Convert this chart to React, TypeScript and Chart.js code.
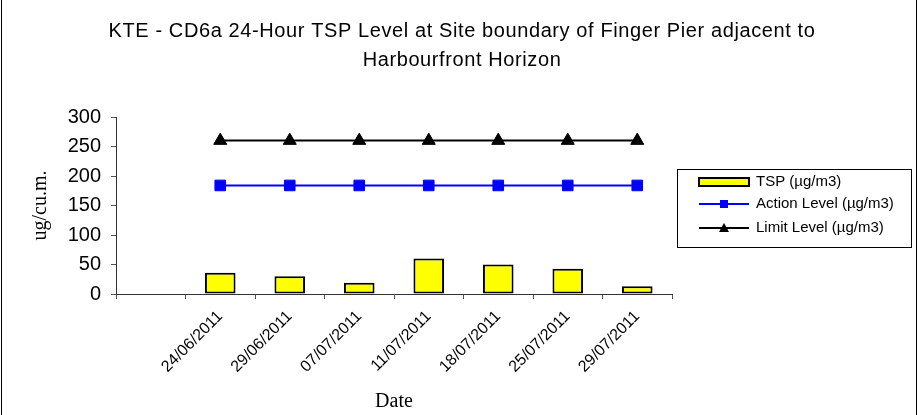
import React, { useEffect, useRef } from 'react';
import { Chart, registerables } from 'chart.js';

Chart.register(...registerables);

const titleLines = [
  'KTE - CD6a 24-Hour TSP Level at Site boundary of Finger Pier adjacent to',
  'Harbourfront Horizon',
];
const categories = ['', '24/06/2011', '29/06/2011', '07/07/2011', '11/07/2011', '18/07/2011', '25/07/2011', '29/07/2011'];
const tspValues = [null, 36, 30, 19, 60, 50, 43, 13];
const actionLevel = [null, 184, 184, 184, 184, 184, 184, 184];
const limitLevel = [null, 260, 260, 260, 260, 260, 260, 260];
const yMin = 0;
const yMax = 300;
const yStep = 50;
const yAxisTitle = 'ug/cu.m.';
const xAxisTitle = 'Date';
const seriesLabels = ['TSP (µg/m3)', 'Action Level (µg/m3)', 'Limit Level (µg/m3)'];

const SANS = '"Liberation Sans", Arial, sans-serif';
const SERIF = '"Liberation Serif", "Times New Roman", serif';

const frameTitlePlugin = {
  id: 'frameTitle',
  afterDraw(chart: any) {
    const ctx = chart.ctx as CanvasRenderingContext2D;
    ctx.save();
    ctx.strokeStyle = '#000';
    ctx.lineWidth = 1;
    ctx.beginPath();
    ctx.moveTo(1.5, 0);
    ctx.lineTo(1.5, chart.height);
    ctx.moveTo(916.5, 0);
    ctx.lineTo(916.5, chart.height);
    ctx.stroke();
    ctx.fillStyle = '#000';
    ctx.font = '20px ' + SANS;
    (ctx as any).letterSpacing = '0.6px';
    ctx.textAlign = 'center';
    ctx.textBaseline = 'middle';
    titleLines.forEach((t, i) => ctx.fillText(t, 462, 31 + i * 29));
    ctx.restore();
  },
};

const boxLegendPlugin = {
  id: 'boxLegend',
  afterDraw(chart: any) {
    const ctx = chart.ctx as CanvasRenderingContext2D;
    const x0 = 677.5, y0 = 169.5, w = 234, h = 78;
    const rows = [182, 204, 228];
    const sx = 699, ex = 749, tx = 756;
    ctx.save();
    ctx.strokeStyle = '#000';
    ctx.lineWidth = 1;
    ctx.strokeRect(x0, y0, w, h);
    chart.data.datasets.forEach((ds: any, i: number) => {
      const y = rows[i];
      if (ds.type === 'bar') {
        ctx.fillStyle = ds.backgroundColor;
        ctx.fillRect(sx, y - 4, ex - sx, 8);
        ctx.lineWidth = 2;
        ctx.strokeStyle = ds.borderColor;
        ctx.strokeRect(sx, y - 4, ex - sx, 8);
      } else {
        ctx.strokeStyle = ds.borderColor;
        ctx.lineWidth = 2;
        ctx.beginPath();
        ctx.moveTo(sx, y);
        ctx.lineTo(ex, y);
        ctx.stroke();
        ctx.fillStyle = ds.pointBackgroundColor;
        const cx = (sx + ex) / 2;
        if (ds.pointStyle === 'rect') {
          ctx.fillRect(cx - 4, y - 4, 8, 8);
        } else {
          ctx.beginPath();
          ctx.moveTo(cx, y - 5);
          ctx.lineTo(cx + 5, y + 4);
          ctx.lineTo(cx - 5, y + 4);
          ctx.closePath();
          ctx.fill();
        }
      }
      ctx.fillStyle = '#000';
      ctx.font = '15px ' + SANS;
      ctx.textAlign = 'left';
      ctx.textBaseline = 'middle';
      ctx.fillText(ds.label, tx, y);
    });
    ctx.restore();
  },
};

export default function App() {
  const ref = useRef<HTMLCanvasElement>(null);
  useEffect(() => {
    document.body.style.margin = '0';
    const chart = new Chart(ref.current as HTMLCanvasElement, {
      type: 'bar',
      data: {
        labels: categories,
        datasets: [
          {
            type: 'bar',
            label: seriesLabels[0],
            data: tspValues,
            backgroundColor: '#FFFF00',
            borderColor: '#000000',
            borderWidth: 2,
            borderSkipped: false,
            barPercentage: 0.44,
            categoryPercentage: 1,
          } as any,
          {
            type: 'line',
            label: seriesLabels[1],
            data: actionLevel,
            borderColor: '#0000FF',
            backgroundColor: '#0000FF',
            borderWidth: 2,
            pointStyle: 'rect',
            pointRadius: 7.5,
            pointBackgroundColor: '#0000FF',
            pointBorderColor: '#0000FF',
            pointBorderWidth: 1,
            fill: false,
          } as any,
          {
            type: 'line',
            label: seriesLabels[2],
            data: limitLevel,
            borderColor: '#000000',
            backgroundColor: '#000000',
            borderWidth: 2,
            pointStyle: 'triangle',
            pointRadius: 7.5,
            pointBackgroundColor: '#000000',
            pointBorderColor: '#000000',
            pointBorderWidth: 1,
            fill: false,
          } as any,
        ],
      },
      options: {
        responsive: false,
        animation: false,
        layout: { padding: { left: 0, top: 117, right: 246, bottom: 0 } },
        plugins: {
          legend: { display: false },
          title: { display: false },
          tooltip: { enabled: false },
        },
        scales: {
          x: {
            afterFit: (s: any) => { s.height = 121; },
            grid: { display: true, drawOnChartArea: false, drawTicks: true, tickLength: 5, color: '#555' },
            border: { display: true, color: '#333', width: 1 },
            ticks: {
              autoSkip: false,
              minRotation: 45,
              maxRotation: 45,
              padding: 8,
              color: '#000',
              font: { family: SANS, size: 16 },
            },
            title: {
              display: true,
              text: xAxisTitle,
              color: '#000',
              font: { family: SERIF, size: 20 },
              padding: { top: 0, bottom: 1 },
            },
          },
          y: {
            min: yMin,
            max: yMax,
            afterFit: (s: any) => { s.width = 116; },
            grid: { display: true, drawOnChartArea: false, drawTicks: true, tickLength: 5, color: '#555' },
            border: { display: true, color: '#333', width: 1 },
            ticks: {
              stepSize: yStep,
              padding: 10,
              color: '#000',
              font: { family: SANS, size: 20 },
            },
            title: {
              display: true,
              text: yAxisTitle,
              color: '#000',
              font: { family: SERIF, size: 20 },
              padding: { top: 29, bottom: 0 },
            },
          },
        },
      },
      plugins: [frameTitlePlugin, boxLegendPlugin],
    });
    return () => chart.destroy();
  }, []);
  return <canvas ref={ref} width={918} height={415} style={{ display: 'block' }} />;
}
